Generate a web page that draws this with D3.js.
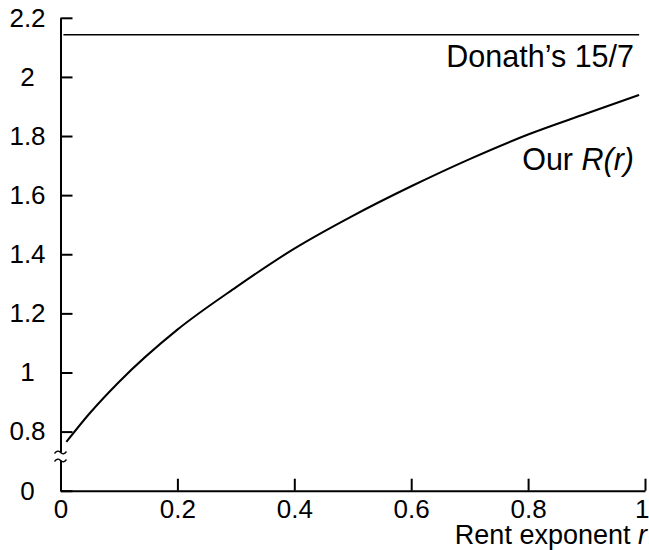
<!DOCTYPE html>
<html lang="en">
<head>
<meta charset="utf-8">
<title>R(r) vs Rent exponent</title>
<script src="https://cdn.jsdelivr.net/npm/d3@7"></script>
<style type="text/css">
	body { margin: 0; background: #fff; }
	text { font-family: "Liberation Sans", Arial, sans-serif; fill: #000; }
</style>
</head>
<body>
<script type="text/javascript">

// curve values
var rValues = [0.01, 0.05, 0.1, 0.2, 0.3, 0.4, 0.5, 0.6, 0.7, 0.8, 0.9, 0.99];
var ourR    = [0.765, 0.862, 0.968, 1.145, 1.288, 1.419, 1.530, 1.630, 1.722, 1.805, 1.876, 1.939];
var donathValue = 15 / 7;

var xTicks = [0, 0.2, 0.4, 0.6, 0.8, 1];
// the y axis is broken: the "0" label sits where 0.6 would be
var yTicks = [0.6, 0.8, 1, 1.2, 1.4, 1.6, 1.8, 2, 2.2];
var yTickLabels = ["0", "0.8", "1", "1.2", "1.4", "1.6", "1.8", "2", "2.2"];

var w = 649, h = 550;
var fontSize = 26;

var svg = d3.select("body").append("svg")
	.attr("width", w)
	.attr("height", h);

var x = d3.scaleLinear().domain([0, 1]).range([60.5, 645]);
var y = d3.scaleLinear().domain([0.6, 2.2]).range([490.7, 17.8]);

// x axis, ticks pointing up
var xAxis = svg.append("g")
	.attr("transform", "translate(0," + y(0.6) + ")")
	.call(d3.axisBottom(x)
		.tickValues(xTicks)
		.tickSizeInner(-12)
		.tickSizeOuter(0)
		.tickPadding(9)
		.tickFormat(d3.format("~g")));

// y axis, ticks pointing right, labels centred
var yAxis = svg.append("g")
	.attr("transform", "translate(" + x(0) + ",0)")
	.call(d3.axisLeft(y)
		.tickValues(yTicks)
		.tickSizeInner(-12)
		.tickSizeOuter(0)
		.tickFormat(function(d, i) { return yTickLabels[i]; }));

svg.selectAll(".tick text")
	.attr("font-size", fontSize)
	.attr("font-family", null);
yAxis.selectAll(".tick text")
	.attr("text-anchor", "middle")
	.attr("x", -33);
// keep the last x label inside the frame
xAxis.selectAll(".tick text")
	.filter(function(d) { return d === 1; })
	.attr("text-anchor", "end")
	.attr("dx", 4);
svg.selectAll(".domain, .tick line")
	.attr("stroke", "#000")
	.attr("stroke-width", 2);

// axis break mark
var by = 456.5;
svg.append("rect")
	.attr("x", x(0) - 7).attr("y", by - 4)
	.attr("width", 14).attr("height", 8)
	.attr("fill", "#fff");
[by - 4, by + 4].forEach(function(yy) {
	svg.append("path")
		.attr("d", "M" + (x(0) - 6) + "," + (yy + 1) + " q3,-4 6,-1 t6,-1")
		.attr("fill", "none")
		.attr("stroke", "#000")
		.attr("stroke-width", 1.3);
});

// Donath's constant
svg.append("line")
	.attr("x1", x(0.005)).attr("x2", x(0.99))
	.attr("y1", y(donathValue)).attr("y2", y(donathValue))
	.attr("stroke", "#000")
	.attr("stroke-width", 1.6);

// our R(r)
var pts = rValues.map(function(r, i) { return [r, ourR[i]]; });
svg.append("path")
	.datum(pts)
	.attr("d", d3.line()
		.x(function(d) { return x(d[0]); })
		.y(function(d) { return y(d[1]); })
		.curve(d3.curveMonotoneX))
	.attr("fill", "none")
	.attr("stroke", "#000")
	.attr("stroke-width", 2);

// labels
svg.append("text")
	.attr("x", 634).attr("y", 67)
	.attr("text-anchor", "end")
	.attr("font-size", 30.5)
	.text("Donath\u2019s 15/7");

var ourLabel = svg.append("text")
	.attr("x", 634).attr("y", 170)
	.attr("text-anchor", "end")
	.attr("font-size", 30.5);
ourLabel.append("tspan").text("Our ");
ourLabel.append("tspan").attr("font-style", "italic").text("R(r)");

var xLabel = svg.append("text")
	.attr("x", 647).attr("y", 544)
	.attr("text-anchor", "end")
	.attr("font-size", 27);
xLabel.append("tspan").text("Rent exponent ");
xLabel.append("tspan").attr("font-style", "italic").text("r");

</script>
</body>
</html>
